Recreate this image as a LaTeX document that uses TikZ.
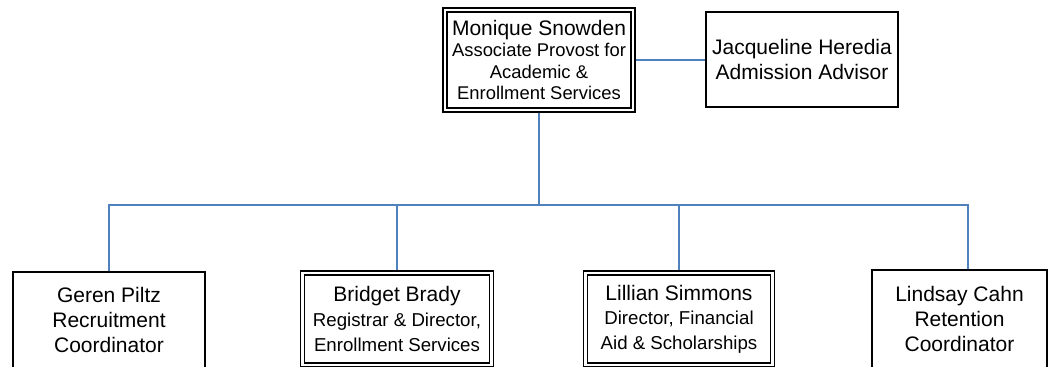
\documentclass[tikz,border=0pt]{standalone}
\usepackage{fontspec}
\setmainfont{Liberation Sans}
\usepackage{tikz}
\usetikzlibrary{calc}
\definecolor{qqwwcc}{rgb}{0.30980392156862746,0.5058823529411764,0.7411764705882353}
\newcommand{\bigname}{\fontsize{15.75}{18.4}\selectfont}
\tikzstyle{every node}=[font=\fontsize{14}{18.4}\selectfont]

\begin{document}
\begin{tikzpicture}[x=0.75pt,y=0.75pt,
    box/.style={draw,line width=1.1pt,align=center,inner sep=0pt},
    dbox/.style={draw,double,double distance=2.2pt,line width=0.8pt,align=center,inner sep=0pt},
    link/.style={line width=1.5pt,color=qqwwcc}]
\useasboundingbox (0,0) rectangle (1049,367);
% top row
\node[dbox,minimum width=141pt,minimum height=75pt,font=\fontsize{13.8}{16}\selectfont] (monique) at (539,307) {{\bigname Monique Snowden}\\Associate Provost for\\Academic \&\\Enrollment Services};
\node[box,minimum width=144pt,minimum height=71.25pt,font=\bigname] (jacq) at (802,307.5) {Jacqueline Heredia\\Admission Advisor};
% bottom row
\node[box,minimum width=144pt,minimum height=72pt,font=\bigname] (geren) at (109,47) {Geren Piltz\\Recruitment\\Coordinator};
\node[dbox,minimum width=141.75pt,minimum height=69pt] (bridget) at (397,48) {{\bigname Bridget Brady}\\Registrar \& Director,\\Enrollment Services};
\node[dbox,minimum width=140.25pt,minimum height=69pt] (lillian) at (679,48) {{\bigname Lillian Simmons}\\Director, Financial\\Aid \& Scholarships};
\node[box,minimum width=131.25pt,minimum height=73.5pt,font=\bigname] (lindsay) at (959.5,48) {Lindsay Cahn\\Retention\\Coordinator};
% connectors
\coordinate (hub) at (539,162);
\draw[link,shorten <=2pt] (monique.east) -- (monique.east -| jacq.west);
\draw[link,shorten <=2pt] (monique.south) -- (hub);
\draw[link] (hub) -| (geren.north);
\draw[link,shorten >=2pt] (hub) -| (bridget.north);
\draw[link,shorten >=2pt] (hub) -| (lillian.north);
\draw[link] (hub) -| ($(lindsay.north)+(8.5,0)$);
\end{tikzpicture}
\end{document}
